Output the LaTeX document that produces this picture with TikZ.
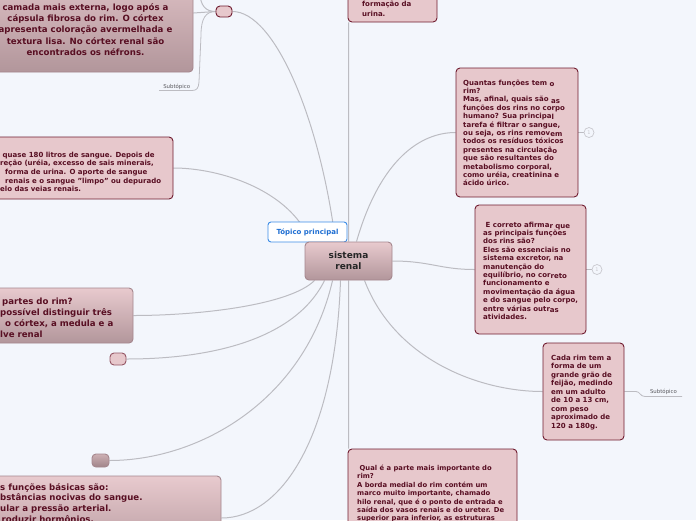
\documentclass[tikz,border=0pt]{standalone}
\usepackage{fontspec}
\setmainfont{DejaVu Sans}
\usetikzlibrary{calc}
\definecolor{bgc}{RGB}{243,246,252}
\definecolor{linec}{RGB}{188,188,194}
\definecolor{pinkl}{RGB}{231,200,204}
\definecolor{mar}{RGB}{112,28,48}
\definecolor{txtm}{RGB}{88,14,34}
\definecolor{gtop}{RGB}{232,202,206}
\definecolor{gbot}{RGB}{178,150,155}
\definecolor{gbord}{RGB}{165,135,142}
\definecolor{dtop}{RGB}{205,176,180}
\definecolor{dbot}{RGB}{160,132,137}
\definecolor{blueb}{RGB}{60,140,230}
\definecolor{bluet}{RGB}{30,110,210}
\definecolor{subt}{RGB}{90,90,95}
\definecolor{circ}{RGB}{200,200,206}
\pgfdeclarelayer{bgl}
\pgfdeclarelayer{lines}
\pgfsetlayers{bgl,lines,main}
\newcommand\lowseg[1]{\raisebox{-1.2pt}{#1}}
\begin{document}
\begin{tikzpicture}[x=1pt,y=-1pt,
 conn/.style={draw=linec, line width=1pt},
 subconn/.style={draw=linec, line width=0.8pt},
 flatbox/.style={draw=mar, fill=pinkl, line width=0.9pt, rounded corners=4pt, inner sep=0pt},
 gradbox/.style={draw=gbord, top color=gtop, bottom color=gbot, line width=0.9pt, rounded corners=4pt, inner sep=0pt},
 smalltxt/.style={text=txtm, font=\fontsize{7}{8.4}\selectfont\bfseries, align=left, inner sep=0pt, anchor=north west},
 bigtxt/.style={text=txtm, font=\fontsize{8.6}{11.2}\selectfont\bfseries, inner sep=0pt},
 subtop/.style={text=subt, font=\fontsize{5.4}{6}\selectfont, inner sep=0pt, anchor=base},
 knob/.style={circle, draw=circ, fill=bgc, line width=0.7pt, minimum size=10pt, inner sep=0pt, text=circ, font=\fontsize{5}{5}\selectfont}
]
\useasboundingbox (0,0) rectangle (696,520);
\begin{pgfonlayer}{bgl}
\fill[bgc] (0,0) rectangle (696,520);
\end{pgfonlayer}

% top-left
\node[gradbox, minimum width=203pt, minimum height=118pt] (b1) at (91.5,13) {};
\node[bigtxt, align=center, anchor=north] (t1) at (85.5,2.5) {\strut camada mais externa, logo após a\\cápsula fibrosa do rim. O córtex\\apresenta coloração avermelhada e\\textura lisa. No córtex renal são\\encontrados os néfrons.};
\node[flatbox, minimum width=16pt, minimum height=11pt] (n1) at (224,11.5) {};
\node[subtop] (s1) at (176.7,88) {Subtópico};
\coordinate (s1l) at (159,90.5);
\coordinate (up1) at (200,-8);

% top middle
\node[flatbox, minimum width=89pt, minimum height=44pt] (b2) at (392.5,0) {};
\node[smalltxt, font=\fontsize{7}{10.7}\selectfont\bfseries] (t2) at (362,-1.5) {\strut formação da\\urina.};

% right upper
\node[flatbox, minimum width=122pt, minimum height=129pt] (b3) at (517,132.5) {};
\node[smalltxt] (t3) at (463,79.1) {\strut Quantas funções tem \lowseg{o}\\rim?\\Mas, afinal, quais são \lowseg{as}\\funções dos rins no corpo\\humano? Sua principa\lowseg{l}\\tarefa é filtrar o sangue,\\ou seja, os rins remov\lowseg{em}\\todos os resíduos tóxicos\\presentes na circulaçã\lowseg{o}\\que são resultantes do\\metabolismo corporal,\\como uréia, creatinina e\\ácido úrico.};
\node[knob] (k3) at (589,132.5) {1};

% left upper
\node[flatbox, minimum width=183pt, minimum height=62pt] (b4) at (81.5,168) {};
\node[smalltxt, font=\fontsize{7}{8.7}\selectfont\bfseries] (t4) at (0,150.9) {\strut\hspace*{2.5pt}quase 180 litros de sangue. Depois de\\reção (uréia, excesso de sais minerais,\\\hspace*{5pt}forma de urina. O aporte de sangue\\\hspace*{5pt}renais e o sangue "limpo" ou depurado\\elo das veias renais.};

% centre
\node[draw=blueb, fill=white, rounded corners=3pt, line width=0.9pt, minimum width=79pt, minimum height=20pt, inner sep=0pt, text=bluet, font=\fontsize{7}{8}\selectfont\bfseries] (tp) at (307.5,232) {Tópico principal};
\node[draw=gbord, top color=gtop, bottom color=gbot, rounded corners=4pt, line width=0.9pt, minimum width=87pt, minimum height=38pt, inner sep=0pt, align=center, text=black!85, font=\fontsize{9}{11}\selectfont\bfseries] (ctr) at (348.5,261) {sistema\\renal};

% right middle
\node[flatbox, minimum width=111pt, minimum height=129pt] (b7) at (530.5,269.5) {};
\node[smalltxt] (t7) at (483,221.1) {\strut\hspace*{2.5pt}E correto afirma\lowseg{r que}\\as principais funções\\dos rins são?\\Eles são essenciais no\\sistema excretor, na\\manutenção do\\equilíbrio, no cor\lowseg{reto}\\funcionamento e\\movimentação da água\\e do sangue pelo corpo,\\entre várias outr\lowseg{as}\\atividades.};
\node[knob] (k7) at (597,269.5) {1};

% left middle
\node[gradbox, minimum width=143pt, minimum height=55pt] (b8) at (61.5,315.5) {};
\node[bigtxt, align=left, anchor=north west] (t8) at (0,296.2) {\strut\hspace*{2pt}partes do rim?\\possível distinguir três\\\hspace*{5pt}o córtex, a medula e a\\lve renal};
\node[flatbox, draw=mar!75, minimum width=16pt, minimum height=12pt] (n9) at (118,359) {};

% right lower
\node[flatbox, minimum width=81pt, minimum height=97pt] (b10) at (583.5,391.5) {};
\node[smalltxt, font=\fontsize{7}{8.5}\selectfont\bfseries] (t10) at (551,354) {\strut Cada rim tem a\\forma de um\\grande grão de\\feijão, medindo\\em um adulto\\de 10 a 13 cm,\\com peso\\aproximado de\\120 a 180g.};
\node[subtop] (s2) at (663.5,393.5) {Subtópico};
\coordinate (s2r) at (682,396.5);

% bottom
\node[gradbox, top color=dtop, bottom color=dbot, minimum width=17pt, minimum height=13pt] (n11) at (100.5,460.5) {};
\node[gradbox, minimum width=231pt, minimum height=84pt] (b12) at (105.5,518) {};
\node[bigtxt, align=left, anchor=north west, font=\fontsize{8.6}{10.8}\selectfont\bfseries] (t12) at (0,482.4) {\strut s funções básicas são:\\bstâncias nocivas do sangue.\\ular a pressão arterial.\\\hspace*{1.5pt}roduzir hormônios.};
\node[flatbox, minimum width=169pt, minimum height=100pt] (b13) at (432.5,499) {};
\node[smalltxt, font=\fontsize{6.8}{8.45}\selectfont\bfseries] (t13) at (357,464.1) {\strut\hspace*{2.5pt}Qual é a parte mais importante do\\rim?\\A borda medial do rim contém um\\marco muito importante, chamado\\hilo renal, que é o ponto de entrada e\\saída dos vasos renais e do ureter. De\\superior para inferior, as estruturas};

\begin{pgfonlayer}{lines}
\draw[conn] ($(ctr.north)+(-13,0)$) .. controls (320,120) and (275,11.5) .. (n1.east);
\draw[conn] (ctr.north) -- ($(b2.south west)+(1,0)$);
\draw[conn] ($(ctr.north)+(8,0)$) .. controls (380,160) and (420,132.5) .. (b3.west);
\draw[conn] ($(ctr.north west)+(6,0)$) .. controls (290,190) and (220,168) .. (b4.east);
\draw[conn] (ctr.east) .. controls (430,261) and (440,269.5) .. (b7.west);
\draw[conn] ($(ctr.south west)+(10,0)$) .. controls (290,305) and (200,315.5) .. (b8.east);
\draw[conn] ($(ctr.south west)+(20,0)$) .. controls (295,340) and (210,359) .. (n9.east);
\draw[conn] ($(ctr.south west)+(28,0)$) .. controls (305,400) and (200,460.5) .. (n11.east);
\draw[conn] ($(ctr.south)+(-8,0)$) .. controls (335,440) and (280,518) .. (b12.east);
\draw[conn] (ctr.south) -- ($(b13.north west)+(1,0)$);
\draw[conn] ($(ctr.south)+(16,0)$) .. controls (395,360) and (480,391.5) .. (b10.west);
\draw[conn] (b3.east) -- (k3.west);
\draw[conn] (b7.east) -- (k7.west);
\draw[conn] (n1.west) .. controls (206,11.5) and (200,6) .. (up1);
\draw[conn] (n1.west) -- (b1.east);
\draw[subconn] (n1.west) .. controls (206,11.5) and (201,18) .. (201,35) -- (199,82) .. controls (198.5,88) and (197,90.5) .. (192,90.5) -- (s1l);
\draw[subconn] (b10.east) -- (636,391.5) .. controls (640,391.5) and (640,396.5) .. (645,396.5) -- (s2r);
\end{pgfonlayer}
\end{tikzpicture}
\end{document}
